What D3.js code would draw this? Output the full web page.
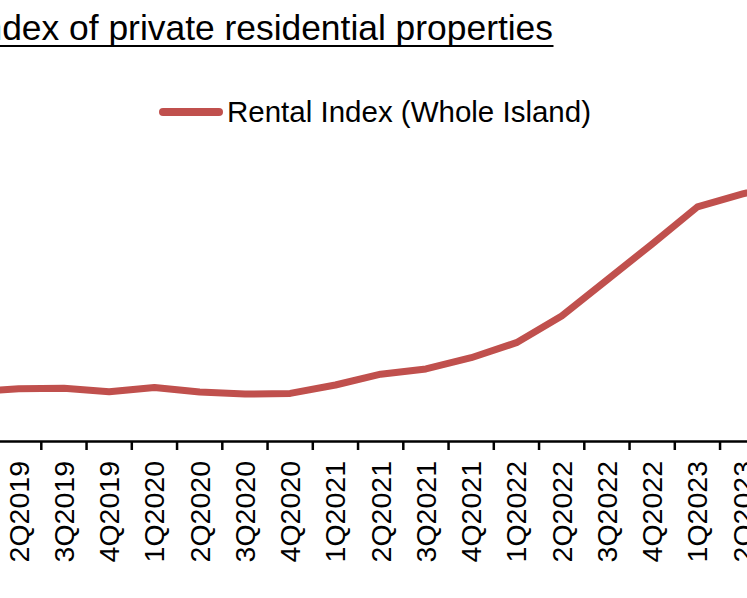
<!DOCTYPE html>
<html lang="en">
<head>
    <meta charset="UTF-8">
    <title>Rental index</title>
    <script src="https://cdn.jsdelivr.net/npm/d3@7"></script>
    <style>
        body { margin: 0; background: #fff; }
        svg { display: block; }
    </style>
</head>
<body>

<div id="myDiv"></div>

<script>

    // quarters (first and last sit just outside the visible crop)
    const quarters = ["1Q2019", "2Q2019", "3Q2019", "4Q2019",
        "1Q2020", "2Q2020", "3Q2020", "4Q2020",
        "1Q2021", "2Q2021", "3Q2021", "4Q2021",
        "1Q2022", "2Q2022", "3Q2022", "4Q2022",
        "1Q2023", "2Q2023", "3Q2023"];

    // Rental Index (Whole Island)
    const rentalIndex = [104.1, 104.9, 105.1, 104.1,
        105.3, 104.0, 103.4, 103.6,
        106.0, 109.1, 110.6, 113.8,
        118.1, 125.7, 136.0, 146.3,
        156.9, 160.6, 164.0];

    const titleText = "Rental index of private residential properties";
    const legendText = "Rental Index (Whole Island)";

    const width = 747, height = 598;
    const lineColor = "#C0504D";
    const axisY = 441;

    const svg = d3.select("#myDiv")
        .append("svg")
        .attr("width", width)
        .attr("height", height);

    // chart is cropped: the plot runs off both sides of the window
    const x = d3.scaleBand()
        .domain(quarters)
        .range([-49.2, -49.2 + quarters.length * 45.25])
        .padding(0);

    const y = d3.scaleLinear()
        .domain([90, 170])
        .range([axisY, axisY - 80 * 3.5]);

    // title
    svg.append("text")
        .attr("x", 553)
        .attr("y", 39.5)
        .attr("text-anchor", "end")
        .style("font-family", "'Liberation Sans', Arial, sans-serif")
        .style("font-size", "35.4px")
        .attr("fill", "#000")
        .text(titleText);

    svg.append("line")
        .attr("x1", -10).attr("x2", 553.5)
        .attr("y1", 46).attr("y2", 46)
        .attr("stroke", "#000")
        .attr("stroke-width", 2);

    // legend
    svg.append("line")
        .attr("x1", 163).attr("x2", 219)
        .attr("y1", 112).attr("y2", 112)
        .attr("stroke", lineColor)
        .attr("stroke-width", 8)
        .attr("stroke-linecap", "round");

    svg.append("text")
        .attr("x", 227)
        .attr("y", 121.7)
        .style("font-family", "'Liberation Sans', Arial, sans-serif")
        .style("font-size", "29.5px")
        .attr("fill", "#000")
        .text(legendText);

    // x axis with labels at band centres
    const xAxis = svg.append("g")
        .attr("transform", "translate(0," + axisY + ")")
        .call(d3.axisBottom(x).tickSize(0).tickSizeOuter(0));

    xAxis.select(".domain")
        .attr("stroke", "#000")
        .attr("stroke-width", 2.5);

    xAxis.selectAll(".tick text")
        .attr("transform", "rotate(-90)")
        .attr("x", -20)
        .attr("y", 0)
        .attr("dy", "0.35em")
        .attr("text-anchor", "end")
        .attr("fill", "#000")
        .style("font-family", "'Liberation Sans', Arial, sans-serif")
        .style("font-size", "28.5px");

    // tick marks between categories (Excel style)
    svg.append("g")
        .selectAll("line")
        .data(quarters.slice(1))
        .enter()
        .append("line")
        .attr("x1", function(d) { return x(d); })
        .attr("x2", function(d) { return x(d); })
        .attr("y1", axisY)
        .attr("y2", axisY + 9)
        .attr("stroke", "#000")
        .attr("stroke-width", 2.5);

    // the series
    const line = d3.line()
        .x(function(d, i) { return x(quarters[i]) + x.bandwidth() / 2; })
        .y(function(d) { return y(d); });

    svg.append("path")
        .datum(rentalIndex)
        .attr("d", line)
        .attr("fill", "none")
        .attr("stroke", lineColor)
        .attr("stroke-width", 7)
        .attr("stroke-linejoin", "round");

</script>

</body>
</html>
